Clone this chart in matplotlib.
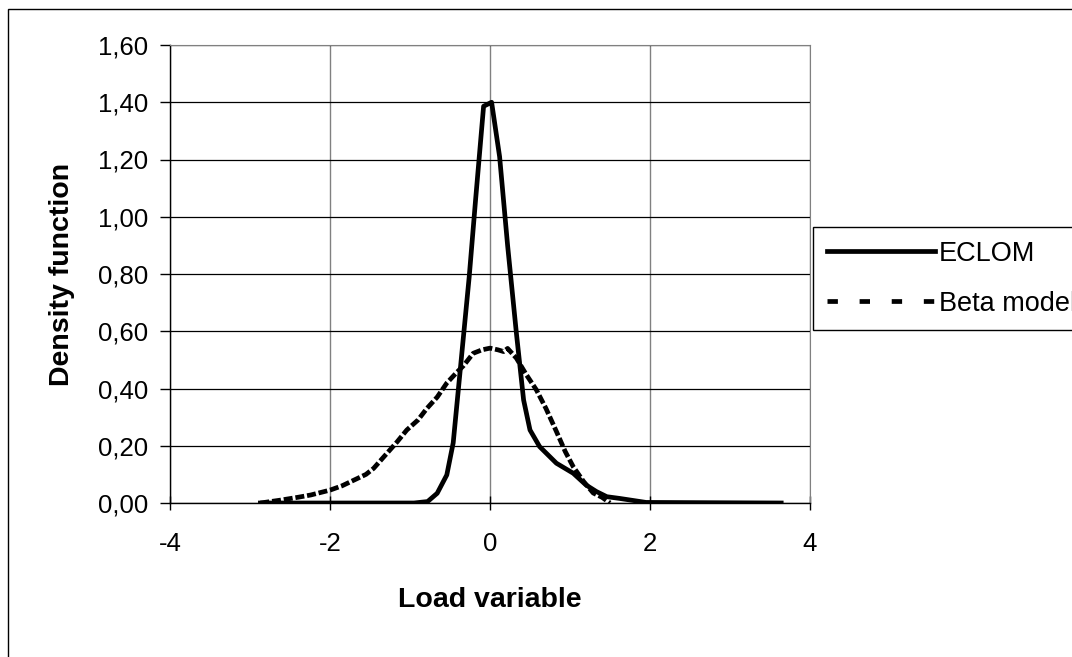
import matplotlib
matplotlib.use('Agg')
import matplotlib.pyplot as plt
from matplotlib.lines import Line2D
from matplotlib.patches import Rectangle
from matplotlib.ticker import FuncFormatter

# ECLOM density (solid curve)
eclom_x = [-2.87, -0.95, -0.85, -0.78, -0.66, -0.54, -0.46, -0.36, -0.26,
           -0.18, -0.08, 0.02, 0.12, 0.22, 0.33, 0.42, 0.50, 0.62, 0.83,
           1.04, 1.20, 1.33, 1.46, 1.62, 1.95, 3.64]
eclom_y = [0.0, 0.0, 0.003, 0.005, 0.034, 0.098, 0.21, 0.50, 0.79,
           1.06, 1.386, 1.40, 1.21, 0.90, 0.593, 0.36, 0.255, 0.197, 0.139,
           0.104, 0.063, 0.04, 0.022, 0.016, 0.002, 0.0]

# Beta model density (dashed curve)
beta_x = [-2.87, -2.62, -2.40, -2.24, -2.00, -1.85, -1.70, -1.55, -1.455,
          -1.29, -1.16, -1.04, -0.90, -0.79, -0.66, -0.54, -0.42, -0.33,
          -0.21, -0.10, 0.00, 0.10, 0.17, 0.22, 0.33, 0.45, 0.58, 0.70,
          0.83, 0.94, 1.04, 1.17, 1.29, 1.40, 1.50]
beta_y = [0.0, 0.01, 0.02, 0.028, 0.045, 0.06, 0.08, 0.10, 0.121,
          0.173, 0.214, 0.255, 0.29, 0.33, 0.37, 0.419, 0.455, 0.48,
          0.523, 0.535, 0.541, 0.535, 0.529, 0.54, 0.506, 0.45, 0.395, 0.33,
          0.25, 0.18, 0.127, 0.075, 0.035, 0.02, 0.0]

x_ticks = [-4, -2, 0, 2, 4]
y_ticks = [0.0, 0.2, 0.4, 0.6, 0.8, 1.0, 1.2, 1.4, 1.6]

plt.rcParams['font.family'] = ['Liberation Sans', 'DejaVu Sans']
plt.rcParams['font.size'] = 18.5

W, H = 1072, 657
fig = plt.figure(figsize=(W / 100, H / 100), dpi=100)
ax = fig.add_axes([170 / W, 1 - 503 / H, 640 / W, 458 / H])

# outer chart frame
fig.patches.append(Rectangle((8 / W, -0.05), 1.1, 1 - 9 / H + 0.05,
                             transform=fig.transFigure, fill=False,
                             edgecolor='black', linewidth=1.0))

ax.plot(eclom_x, eclom_y, color='black', lw=3.4, solid_joinstyle='round',
        label='ECLOM')
ax.plot(beta_x, beta_y, color='black', lw=3.4, dashes=(1.9, 0.6),
        label='Beta model')

ax.set_xlim(-4, 4)
ax.set_ylim(0, 1.6)
ax.set_xticks(x_ticks)
ax.set_yticks(y_ticks)
ax.yaxis.set_major_formatter(FuncFormatter(lambda v, p: f'{v:.2f}'.replace('.', ',')))
ax.xaxis.set_major_formatter(FuncFormatter(lambda v, p: f'{v:.0f}'))

ax.grid(axis='y', color='black', lw=0.9)
ax.grid(axis='x', color='#808080', lw=1.0)
ax.set_axisbelow(True)
for side in ['top', 'right']:
    ax.spines[side].set_color('#808080')
for side in ['left', 'bottom']:
    ax.spines[side].set_color('black')
    ax.spines[side].set_linewidth(1.0)

ax.tick_params(axis='y', direction='out', length=7, width=1.0, pad=9)
ax.tick_params(axis='x', direction='inout', length=10, width=1.0, pad=16)

ax.set_xlabel('Load variable', fontweight='bold', fontsize=20.5, labelpad=22)
ax.set_ylabel('Density function', fontweight='bold', fontsize=20.5, labelpad=16)

handles = [Line2D([], [], color='black', lw=3.4),
           Line2D([], [], color='black', lw=3.4, dashes=(2.2, 4.6))]
fig.legend(handles, ['ECLOM', 'Beta model'], loc='upper left',
           bbox_to_anchor=(813 / W, 1 - 227 / H), borderaxespad=0,
           handlelength=4.0, handletextpad=0.15, labelspacing=0.9,
           borderpad=0.5, fancybox=False, framealpha=1,
           edgecolor='black', fontsize=19.5)

fig.savefig('out.png', dpi=100)
